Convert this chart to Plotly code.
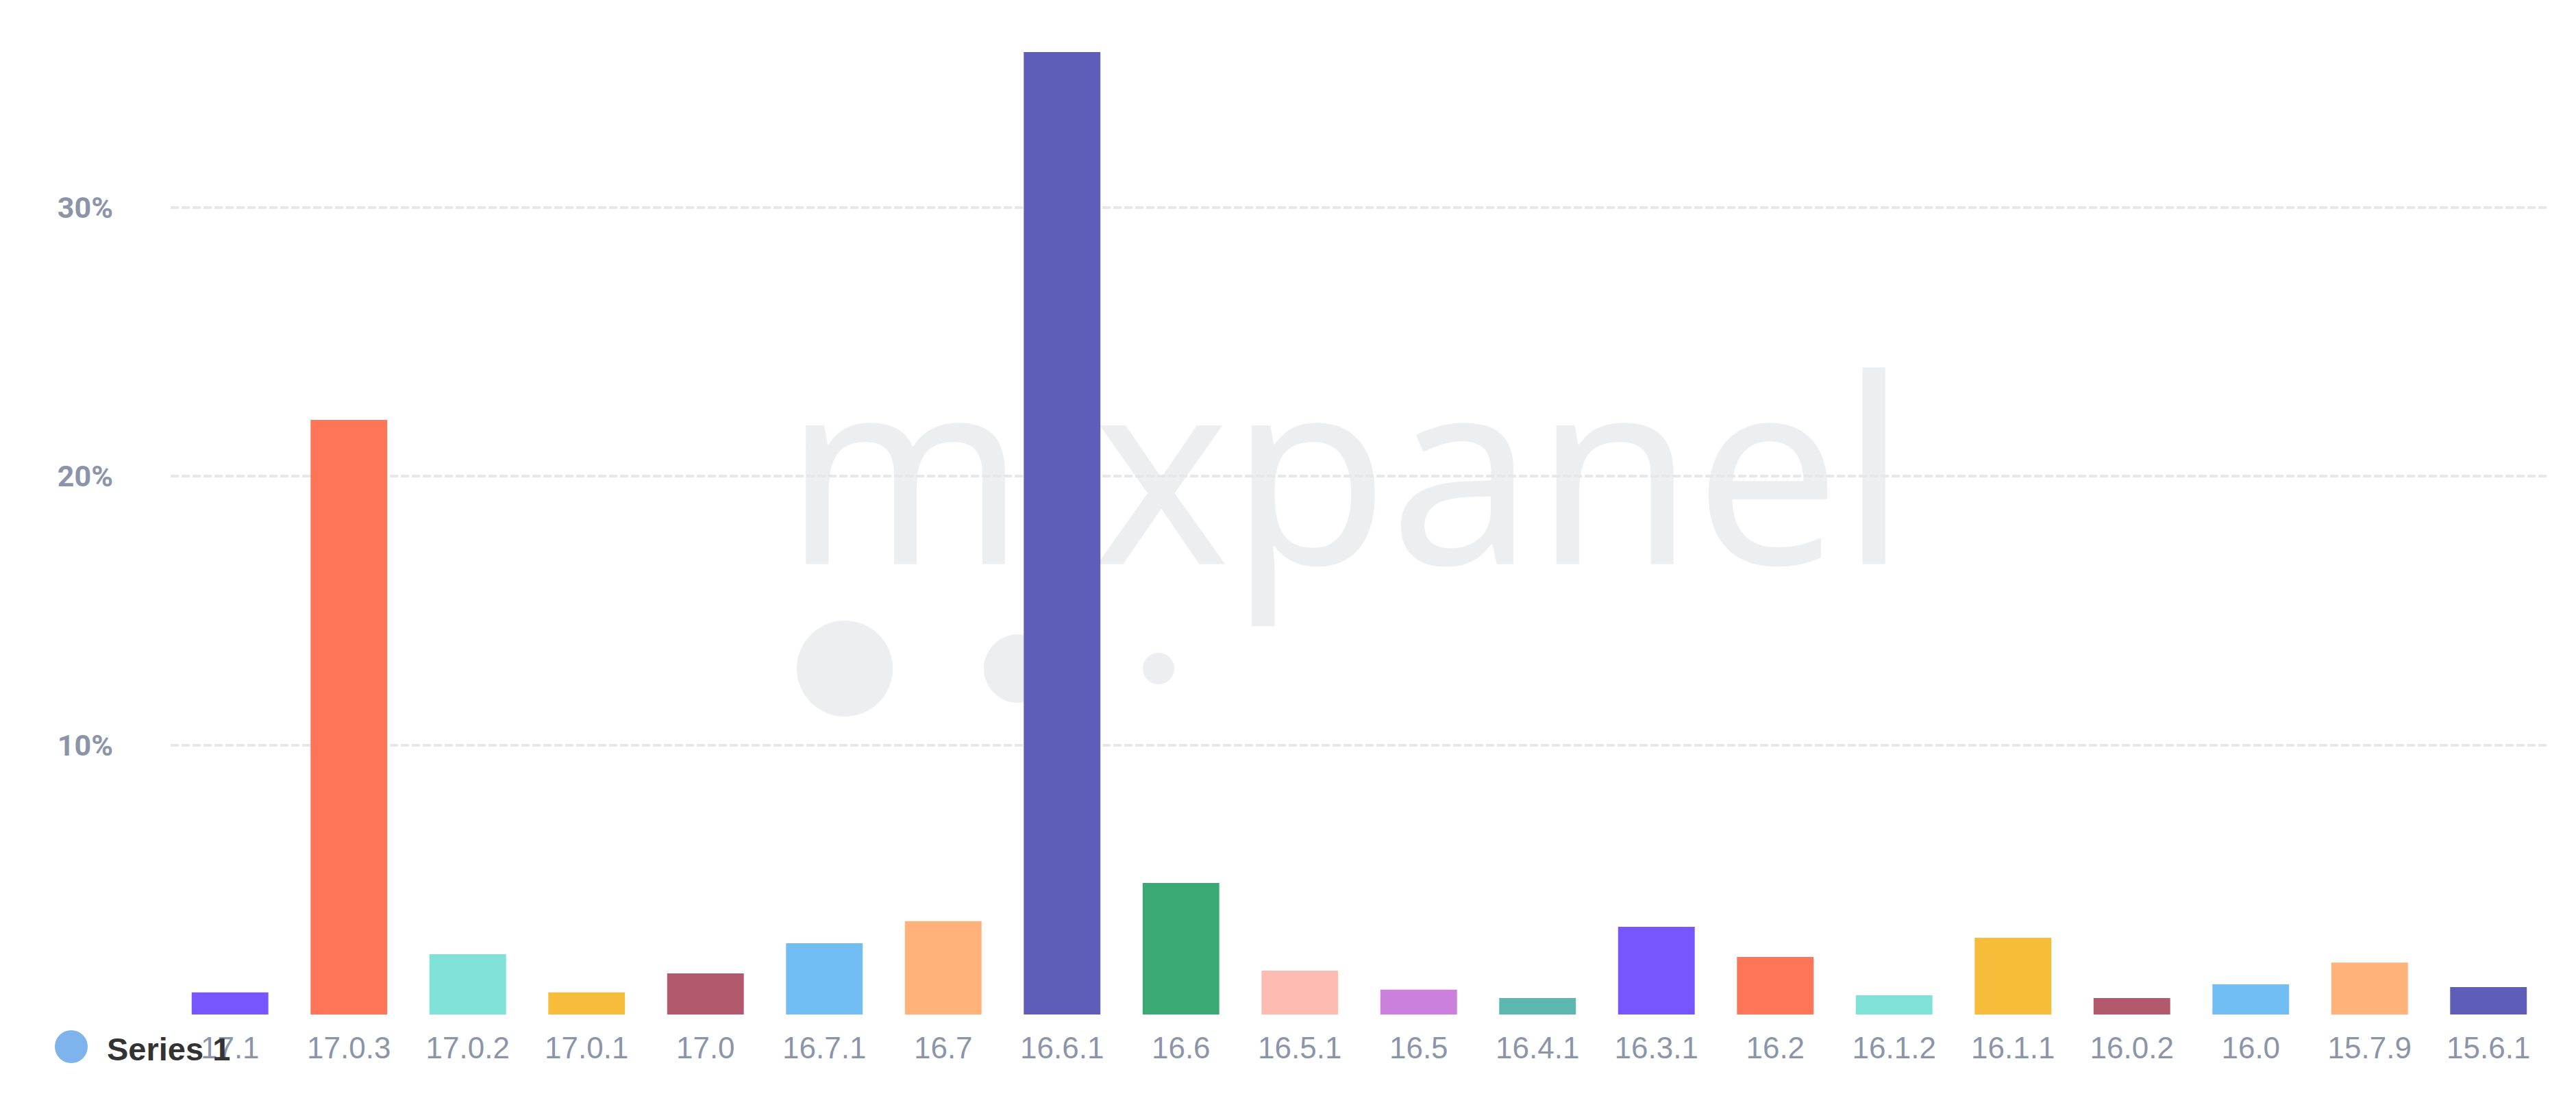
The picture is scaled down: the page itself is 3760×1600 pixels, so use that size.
import plotly.graph_objects as go

# ---- data ----
versions = ["17.1", "17.0.3", "17.0.2", "17.0.1", "17.0", "16.7.1", "16.7", "16.6.1",
            "16.6", "16.5.1", "16.5", "16.4.1", "16.3.1", "16.2", "16.1.2", "16.1.1",
            "16.0.2", "16.0", "15.7.9", "15.6.1"]
share_pct = [0.82, 22.1, 2.24, 0.82, 1.53, 2.65, 3.47, 35.77,
             4.89, 1.63, 0.92, 0.61, 3.26, 2.14, 0.71, 2.85,
             0.61, 1.12, 1.93, 1.02]
bar_colors = ["#7856FF", "#FF7557", "#80E1D9", "#F8BC3B", "#B2596E", "#72BEF4", "#FFB27A", "#5E5DB7",
              "#3BA974", "#FEBBB2", "#CA80DC", "#5BB7AF", "#7856FF", "#FF7557", "#80E1D9", "#F8BC3B",
              "#B2596E", "#72BEF4", "#FFB27A", "#5E5DB7"]
y_ticks = [10, 20, 30]
y_tick_labels = ["10%", "20%", "30%"]
series_name = "Series 1"

# ---- layout geometry (page pixels; the page body adds an 8px margin) ----
OFF = 8
W, H = 3760 - 2 * OFF, 1600 - 2 * OFF
PLOT_L, PLOT_R, PLOT_T, PLOT_B = 249, 3719, OFF, 1481   # absolute page pixels
ML = PLOT_L - OFF
MR = (OFF + W) - PLOT_R
MT = PLOT_T - OFF
MB = (OFF + H) - PLOT_B
PW = PLOT_R - PLOT_L
PH = PLOT_B - PLOT_T
PX_PER_PCT = 39.28
Y_MAX = PH / PX_PER_PCT


def px(x):
    return (x - PLOT_L) / PW


def py(y):
    return (PLOT_B - y) / PH


TICK_COLOR = "#8B95A9"
GRID_COLOR = "#E6E7EB"
WM_COLOR = "#EDEEF0"
WM_SIZE = 378

fig = go.Figure()
fig.add_trace(go.Bar(
    x=versions, y=share_pct, marker=dict(color=bar_colors, line=dict(width=0)),
    name=series_name, showlegend=False,
    hovertemplate="%{x}: %{y:.2f}%<extra></extra>",
))

shapes = []
# watermark text (below traces and grid)
wm_cx = 1964
wm_cy = 824 - 0.32 * WM_SIZE
shapes.append(dict(
    type="rect", xref="paper", yref="paper", layer="below",
    x0=px(wm_cx - 900), x1=px(wm_cx + 900), y0=py(wm_cy + 200), y1=py(wm_cy - 200),
    line=dict(width=0), fillcolor="rgba(0,0,0,0)",
    label=dict(text="mixpanel", textposition="middle center",
               font=dict(family="Noto Sans", size=WM_SIZE, color=WM_COLOR)),
))
# watermark dots
for cx, cy, r in [(1233, 976, 70), (1486, 976, 50), (1691, 976, 23)]:
    shapes.append(dict(
        type="circle", xref="paper", yref="paper", layer="below",
        x0=px(cx - r), x1=px(cx + r), y0=py(cy + r), y1=py(cy - r),
        line=dict(width=0), fillcolor=WM_COLOR,
    ))
# legend marker
shapes.append(dict(
    type="circle", xref="paper", yref="paper",
    x0=px(80), x1=px(128), y0=py(1552), y1=py(1504),
    line=dict(width=0), fillcolor="#7DB4EB",
))

fig.update_layout(
    width=W, height=H,
    margin=dict(l=ML, r=MR, t=MT, b=MB, pad=0),
    paper_bgcolor="white", plot_bgcolor="white",
    bargap=0.355,
    showlegend=False,
    shapes=shapes,
    annotations=[dict(
        text="<b>" + series_name + "</b>", xref="paper", yref="paper",
        x=px(154), y=py(1531), xanchor="left", yanchor="middle", showarrow=False,
        font=dict(family="Liberation Sans, Arial", size=47, color="#333333"),
    )],
    xaxis=dict(
        type="category", showgrid=False, zeroline=False, showline=False, ticks="",
        tickfont=dict(family="Liberation Sans, Arial", size=44, color=TICK_COLOR),
        ticklabelstandoff=19,
    ),
    yaxis=dict(
        range=[0, Y_MAX], tickmode="array", tickvals=[0] + y_ticks, ticktext=[""] + y_tick_labels,
        showgrid=True, gridcolor=GRID_COLOR, gridwidth=4, griddash="12px,4px",
        zeroline=False, showline=False, ticks="",
        tickfont=dict(family="Roboto", size=43, color=TICK_COLOR, weight="bold"),
        ticklabelstandoff=83,
    ),
)

fig.write_html("out.html")
